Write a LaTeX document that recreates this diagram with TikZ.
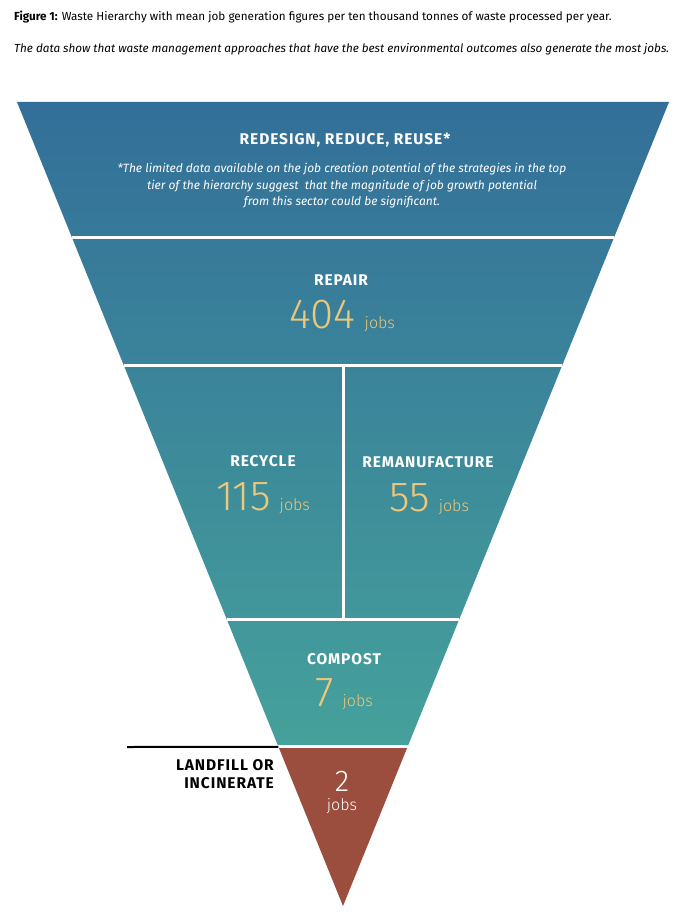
\documentclass[tikz,border=0pt]{standalone}
\usepackage{fontspec}
\setmainfont{Fira Sans}
\newfontfamily\lightfont{Fira Sans Light}
\usepackage{xcolor}
\usetikzlibrary{calc}
\usetikzlibrary{positioning}

\definecolor{tierTop}{HTML}{336F99}
\definecolor{tierMid}{HTML}{3C8A9D}
\definecolor{tierLow}{HTML}{45A19B}
\definecolor{landfill}{HTML}{9B4D3E}
\definecolor{jobgold}{HTML}{EFC77A}

\newcommand{\jobfig}[2]{{\lightfont\fontsize{#1}{#1}\selectfont #2}\hspace{9pt}{\lightfont\fontsize{16}{16}\selectfont jobs}}

\begin{document}
\begin{tikzpicture}[x=1pt,y=-1pt]
	\tikzstyle{tier}=[text=white, anchor=base, inner sep=0pt, font=\bfseries\addfontfeature{LetterSpace=6}\fontsize{15.5}{15.5}\selectfont]
	\tikzstyle{count}=[text=jobgold, anchor=base, inner sep=0pt]
	\tikzstyle{gap}=[white, line width=3pt]

	\useasboundingbox (0,0) rectangle (691,915);

	\node[anchor=base west, inner sep=0pt, font=\fontsize{11.7}{14}\selectfont] (caption) at (14,21)
		{\textbf{Figure 1:} Waste Hierarchy with mean job generation figures per ten thousand tonnes of waste processed per year.};
	\node[anchor=base west, inner sep=0pt, font=\itshape\fontsize{11.7}{14}\selectfont] (summary) at (14,53)
		{The data show that waste management approaches that have the best environmental outcomes also generate the most jobs.};

	\coordinate (TL) at (17,102);
	\coordinate (TR) at (669,102);
	\coordinate (apex) at (343,906);
	\foreach \t/\n in {0.169/a,0.328/b,0.644/c,0.802/d}{
		\coordinate (L\n) at ($(TL)!\t!(apex)$);
		\coordinate (R\n) at ($(TR)!\t!(apex)$);
	}
	\coordinate (Mb) at ($(Lb)!0.5!(Rb)$);
	\coordinate (Mc) at ($(Lc)!0.5!(Rc)$);
	\coordinate (ruleend) at (127,747);

	% the funnel
	\shade[top color=tierTop, middle color=tierMid, bottom color=tierLow] (TL) -- (TR) -- (Rd) -- (Ld) -- cycle;
	\fill[landfill] (Ld) -- (Rd) -- (apex) -- cycle;
	\foreach \n in {a,b,c,d}{
		\draw[gap] (L\n) -- (R\n);
	}
	\draw[gap] (Mb) -- (Mc);
	\draw[black, line width=2pt] (ruleend) -- (Ld);

	% labels
	\node[tier] (redesign) at (345,145) {REDESIGN, REDUCE, REUSE*};
	\node[text=white, align=center, inner sep=0pt, font=\itshape\fontsize{12}{16.5}\selectfont] (footnote) at (342,186)
		{*The limited data available on the job creation potential of the strategies in the top\\
		 tier of the hierarchy suggest\ \ that the magnitude of job growth potential\\
		 from this sector could be significant.};

	\node[tier] (repair) at (341,285) {REPAIR};
	\node[count] (repaircount) at (342,328) {\jobfig{42}{404}};

	\node[tier] (recycle) at (263,466) {RECYCLE};
	\node[count] (recyclecount) at (263,510) {\jobfig{42}{115}};

	\node[tier] (remanufacture) at (428,467) {REMANUFACTURE};
	\node[count] (remanufacturecount) at (429,511) {\jobfig{42}{55}};

	\node[tier] (compost) at (344,664) {COMPOST};
	\node[count] (compostcount) at (344,706) {\jobfig{42}{7}};

	\node[anchor=east, align=right, inner sep=0pt, font=\bfseries\addfontfeature{LetterSpace=6}\fontsize{15.5}{18}\selectfont] (landfilllabel) at (274,774)
		{LANDFILL OR\\INCINERATE};
	\node[text=white, anchor=base, inner sep=0pt, font=\lightfont\fontsize{30}{30}\selectfont] (landfillcount) at (342,791) {2};
	\node[text=white, anchor=base, inner sep=0pt, font=\lightfont\fontsize{16}{16}\selectfont] (landfilljobs) at (342,810) {jobs};
\end{tikzpicture}
\end{document}
